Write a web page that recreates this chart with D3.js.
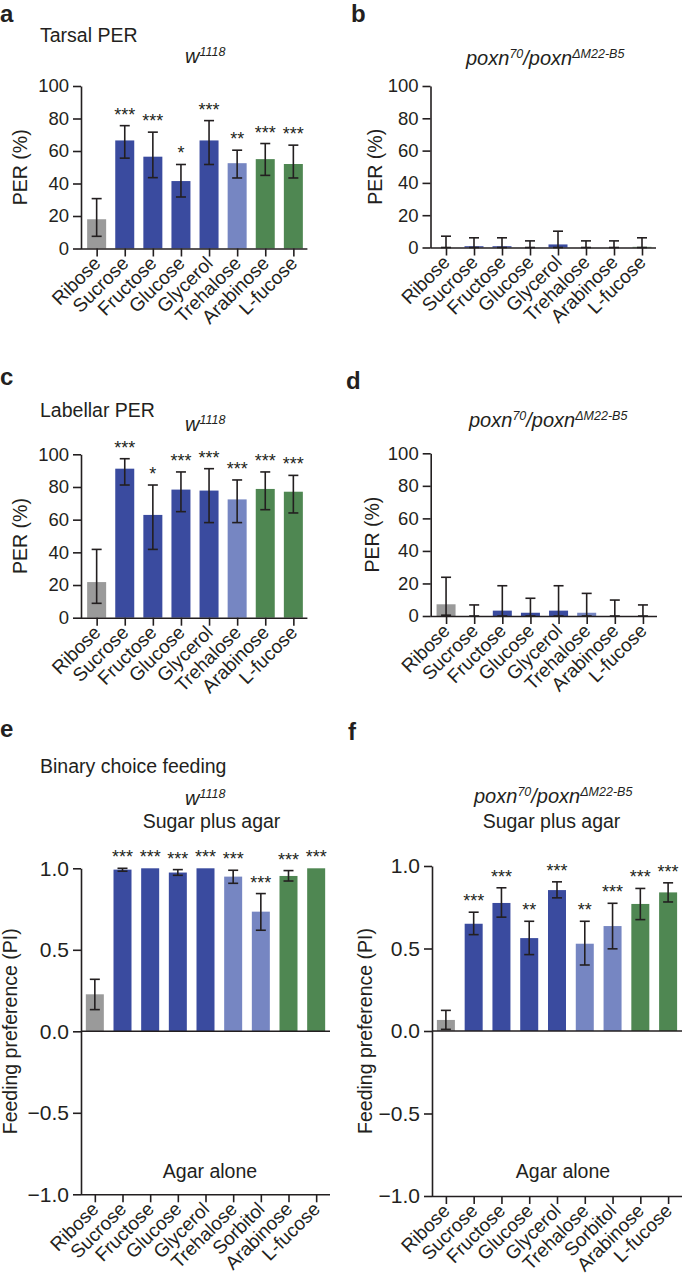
<!DOCTYPE html>
<html><head><meta charset="utf-8">
<script src="https://cdn.jsdelivr.net/npm/d3@7"></script>
<style>
body{margin:0;background:#fff}
svg{display:block}
text{font-family:"Liberation Sans",Arial,Helvetica,sans-serif;fill:#231f20}
</style></head>
<body><svg id="fig" width="685" height="1287"></svg>
<script>
// ---------- DATA ----------
const perCategories = ["Ribose","Sucrose","Fructose","Glucose","Glycerol","Trehalose","Arabinose","L-fucose"];
const feedCategories = ["Ribose","Sucrose","Fructose","Glucose","Glycerol","Trehalose","Sorbitol","Arabinose","L-fucose"];
const perTicks = [0,20,40,60,80,100];
const piTicks = [-1,-0.5,0,0.5,1];

// a: Tarsal PER, w1118
const tarsalW     = [18, 66.5, 56.5, 41.5, 66.5, 52.5, 55, 52];
const tarsalWLow  = [7.5, 55.6, 43.6, 31.7, 51.7, 43.4, 45, 43.4];
const tarsalWHigh = [30.7, 75.6, 71.6, 51.7, 78.7, 60.5, 64.6, 63.6];
const tarsalWStars = ["", "***", "***", "*", "***", "**", "***", "***"];
// b: Tarsal PER, poxn
const tarsalP     = [0, 0.8, 0.8, 0, 1.9, 0, 0, 0.4];
const tarsalPLow  = [0, 0, 0, 0, 0, 0, 0, 0];
const tarsalPHigh = [7, 6, 6, 4.1, 10.1, 4.1, 4.1, 6];
// c: Labellar PER, w1118
const labellarW     = [21.8, 91.2, 62.9, 78.4, 77.8, 72.4, 78.8, 77.1];
const labellarWLow  = [8.8, 81.2, 41.8, 64.9, 58.2, 58.2, 66.1, 64.1];
const labellarWHigh = [41.8, 97.3, 81.2, 89.2, 91.2, 84.3, 89.2, 87.1];
const labellarWStars = ["", "***", "*", "***", "***", "***", "***", "***"];
// d: Labellar PER, poxn
const labellarP     = [7.2, 0, 3.3, 2, 3.3, 2, 0, 0];
const labellarPLow  = [0.5, 0, 0, 0, 0, 0, 0, 0];
const labellarPHigh = [23.8, 6.8, 18.6, 10.9, 18.6, 13.9, 9.8, 6.8];
// e: Binary choice feeding, w1118
const feedW     = [0.227, 0.992, 1.0, 0.974, 1.0, 0.949, 0.734, 0.953, 1.0];
const feedWLow  = [0.133, 0.982, 1.0, 0.957, 1.0, 0.908, 0.62, 0.922, 1.0];
const feedWHigh = [0.319, 1.0, 1.0, 0.992, 1.0, 0.988, 0.845, 0.986, 1.0];
const feedWStars = ["", "***", "***", "***", "***", "***", "***", "***", "***"];
// f: Binary choice feeding, poxn
const feedP     = [0.067, 0.65, 0.776, 0.563, 0.854, 0.529, 0.636, 0.77, 0.84];
const feedPLow  = [0.01, 0.584, 0.69, 0.463, 0.807, 0.4, 0.498, 0.675, 0.782];
const feedPHigh = [0.125, 0.72, 0.868, 0.665, 0.904, 0.665, 0.774, 0.864, 0.898];
const feedPStars = ["", "***", "***", "**", "***", "**", "***", "***", "***"];

// ---------- STYLE ----------
const C_GRAY = "#9a9a9a", C_DARK = "#3a4b9f", C_LIGHT = "#7686c2", C_GREEN = "#4f8752";
const colorOf = {Ribose:C_GRAY, Sucrose:C_DARK, Fructose:C_DARK, Glucose:C_DARK, Glycerol:C_DARK,
  Trehalose:C_LIGHT, Sorbitol:C_LIGHT, Arabinose:C_GREEN, "L-fucose":C_GREEN};
const INK = "#231f20";

const svg = d3.select("#fig");

function panelLetter(t, x, y){
  svg.append("text").attr("x", x).attr("y", y).attr("font-size", 24).attr("font-weight", "bold").text(t);
}
function plainText(t, x, y, size, anchor){
  svg.append("text").attr("x", x).attr("y", y).attr("font-size", size).attr("text-anchor", anchor || "start").text(t);
}
function wTitle(x, y){
  const t = svg.append("text").attr("x", x).attr("y", y).attr("font-size", 20).attr("font-style", "italic");
  t.append("tspan").text("w");
  t.append("tspan").attr("font-size", 12.5).attr("dy", -7).text("1118");
}
function poxnTitle(x, y){
  const t = svg.append("text").attr("x", x).attr("y", y).attr("font-size", 20).attr("font-style", "italic");
  t.append("tspan").text("poxn");
  t.append("tspan").attr("font-size", 12.5).attr("dy", -7).text("70");
  t.append("tspan").attr("dy", 7).text("/poxn");
  t.append("tspan").attr("font-size", 12.5).attr("dy", -7).text("\u0394M22-B5");
}

function drawPanel(o){
  const g = svg.append("g");
  const x = d3.scalePoint().domain(o.cats).range(o.xRange).padding(0.5);
  const y = d3.scaleLinear().domain(o.yDomain).range(o.yRange);
  const axisY = y(o.yDomain[0]);
  const zeroY = y(0);

  // bars
  g.selectAll("rect.bar").data(o.cats).join("rect")
    .attr("x", c => x(c) - o.barW/2)
    .attr("width", o.barW)
    .attr("y", (c,i) => Math.min(y(o.vals[i]), zeroY))
    .attr("height", (c,i) => Math.abs(zeroY - y(o.vals[i])))
    .attr("fill", c => colorOf[c]);

  // error bars
  const cap = 5;
  o.cats.forEach((c,i) => {
    if (o.hi[i] - o.lo[i] < 0.001 * (o.yDomain[1]-o.yDomain[0])) return;
    const cx = x(c);
    g.append("line").attr("x1", cx).attr("x2", cx).attr("y1", y(o.lo[i])).attr("y2", y(o.hi[i]))
      .attr("stroke", INK).attr("stroke-width", 1.6);
    [o.lo[i], o.hi[i]].forEach(v => {
      g.append("line").attr("x1", cx-cap).attr("x2", cx+cap).attr("y1", y(v)).attr("y2", y(v))
        .attr("stroke", INK).attr("stroke-width", 1.6);
    });
  });

  // y axis
  const ya = g.append("g").attr("transform", `translate(${o.axisX},0)`)
    .call(d3.axisLeft(y).tickValues(o.ticks).tickSize(8).tickPadding(4).tickSizeOuter(0).tickFormat(o.fmt));
  ya.select(".domain").attr("stroke", INK).attr("stroke-width", 1.6);
  ya.selectAll(".tick line").attr("stroke", INK).attr("stroke-width", 1.6);
  ya.selectAll(".tick text").attr("font-size", o.tickFont).attr("fill", INK);
  ya.attr("font-family", null);

  // zero line (for PI panels)
  if (o.zeroLine){
    g.append("line").attr("x1", o.axisX).attr("x2", o.xRange[1]).attr("y1", zeroY).attr("y2", zeroY)
      .attr("stroke", INK).attr("stroke-width", 1.6);
  }

  // x axis
  const xa = g.append("g").attr("transform", `translate(0,${axisY})`)
    .call(d3.axisBottom(x).tickSize(8).tickSizeOuter(0).tickFormat(""));
  xa.select(".domain").attr("stroke", INK).attr("stroke-width", 1.6)
    .attr("d", `M${o.axisX},0.5H${o.xRange[1]}`);
  xa.selectAll(".tick line").attr("stroke", INK).attr("stroke-width", 1.6);
  xa.selectAll(".tick text").remove();

  // rotated category labels
  o.cats.forEach(c => {
    g.append("text")
      .attr("transform", `translate(${x(c)+5},${axisY+16}) rotate(-45)`)
      .attr("text-anchor", "end").attr("font-size", 19).text(c);
  });

  // y label
  g.append("text")
    .attr("transform", `translate(${o.yLabelX},${(o.yRange[0]+o.yRange[1])/2}) rotate(-90)`)
    .attr("text-anchor", "middle").attr("dy", "0.35em").attr("font-size", 19.5).text(o.yLabel);

  // significance stars
  if (o.stars){
    o.cats.forEach((c,i) => {
      if (!o.stars[i]) return;
      const top = Math.max(o.vals[i], o.hi[i]);
      g.append("text").attr("x", x(c)).attr("y", y(top) - 5)
        .attr("text-anchor", "middle").attr("font-size", 18).text(o.stars[i]);
    });
  }
}

// ---------- PANELS ----------
const perFmt = d3.format("d");
const piFmt = d3.format(".1f");

// a
panelLetter("a", 0, 22);
plainText("Tarsal PER", 40, 42, 19.5);
wTitle(185, 63);
drawPanel({cats: perCategories, vals: tarsalW, lo: tarsalWLow, hi: tarsalWHigh, stars: tarsalWStars,
  xRange:[82.6,307.4], yDomain:[0,100], yRange:[248.5,86], axisX:81, ticks: perTicks, fmt: perFmt,
  tickFont:18.5, barW:19, yLabel:"PER (%)", yLabelX:20});

// b
panelLetter("b", 351, 22);
poxnTitle(466, 65);
drawPanel({cats: perCategories, vals: tarsalP, lo: tarsalPLow, hi: tarsalPHigh, stars: null,
  xRange:[432,656], yDomain:[0,100], yRange:[247.5,86], axisX:430.5, ticks: perTicks, fmt: perFmt,
  tickFont:18.5, barW:19, yLabel:"PER (%)", yLabelX:375});

// c
panelLetter("c", 0, 385);
plainText("Labellar PER", 40, 417, 19.5);
wTitle(185, 431);
drawPanel({cats: perCategories, vals: labellarW, lo: labellarWLow, hi: labellarWHigh, stars: labellarWStars,
  xRange:[82.6,307.4], yDomain:[0,100], yRange:[617.7,454.3], axisX:81, ticks: perTicks, fmt: perFmt,
  tickFont:18.5, barW:19, yLabel:"PER (%)", yLabelX:20});

// d
panelLetter("d", 346, 389);
poxnTitle(469, 427);
drawPanel({cats: perCategories, vals: labellarP, lo: labellarPLow, hi: labellarPHigh, stars: null,
  xRange:[432,657], yDomain:[0,100], yRange:[616,453.3], axisX:430.7, ticks: perTicks, fmt: perFmt,
  tickFont:18.5, barW:19, yLabel:"PER (%)", yLabelX:372});

// e
panelLetter("e", 0, 737);
plainText("Binary choice feeding", 40, 773, 19.5);
wTitle(185, 805);
plainText("Sugar plus agar", 211.5, 828, 19.5, "middle");
plainText("Agar alone", 210, 1178, 19.5, "middle");
drawPanel({cats: feedCategories, vals: feedW, lo: feedWLow, hi: feedWHigh, stars: feedWStars,
  xRange:[81,330], yDomain:[-1,1], yRange:[1194.3,868.3], axisX:81, ticks: piTicks, fmt: piFmt,
  tickFont:21, barW:18, zeroLine:true, yLabel:"Feeding preference (PI)", yLabelX:10});

// f
panelLetter("f", 348, 740);
poxnTitle(474, 803);
plainText("Sugar plus agar", 551.5, 828, 19.5, "middle");
plainText("Agar alone", 563, 1178, 19.5, "middle");
drawPanel({cats: feedCategories, vals: feedP, lo: feedPLow, hi: feedPHigh, stars: feedPStars,
  xRange:[432,682], yDomain:[-1,1], yRange:[1196,866], axisX:432, ticks: piTicks, fmt: piFmt,
  tickFont:21, barW:18, zeroLine:true, yLabel:"Feeding preference (PI)", yLabelX:365});
</script></body></html>
